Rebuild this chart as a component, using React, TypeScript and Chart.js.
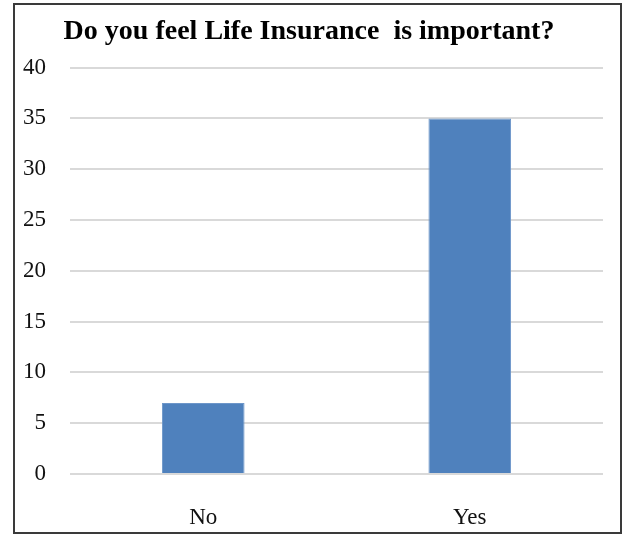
import React, { useEffect, useRef } from "react";
import { Chart, registerables } from "chart.js";

Chart.register(...registerables);

const categories = ["No", "Yes"];
const values = [7, 35];
const titleText = "Do you feel Life Insurance  is important?";

export default function App() {
  const ref = useRef<HTMLCanvasElement>(null);
  useEffect(() => {
    if (!ref.current) return;
    const chart = new Chart(ref.current, {
      type: "bar",
      data: {
        labels: categories,
        datasets: [
          {
            data: values,
            backgroundColor: "#4F81BD",
            borderColor: "#6d96c9",
            borderWidth: 1,
            barPercentage: 0.31,
            categoryPercentage: 1,
          },
        ],
      },
      options: {
        animation: false,
        responsive: false,
        layout: { padding: { left: 0, right: 17, top: 0, bottom: 0 } },
        plugins: {
          legend: { display: false },
          tooltip: { enabled: false },
          title: {
            display: true,
            text: titleText,
            color: "#000",
            font: { family: "Liberation Serif", size: 28, weight: "bold" },
            padding: { top: 10, bottom: 19 },
          },
        },
        scales: {
          x: {
            grid: { display: false, drawTicks: false },
            border: { display: false },
            ticks: {
              color: "#111",
              font: { family: "Liberation Serif", size: 23 },
              padding: 30,
            },
            afterFit: (axis: any) => {
              axis.height = 58;
            },
          },
          y: {
            min: 0,
            max: 40,
            ticks: {
              stepSize: 5,
              color: "#111",
              font: { family: "Liberation Serif", size: 23 },
              padding: 24,
            },
            grid: { color: "#d9d9d9", lineWidth: 2, drawTicks: false },
            border: { display: false },
            afterFit: (axis: any) => {
              axis.width = 55;
            },
          },
        },
      },
    });
    return () => chart.destroy();
  }, []);
  return (
    <div
      style={{
        position: "absolute",
        left: 13,
        top: 3,
        width: 609,
        height: 531,
        border: "2px solid #3a3a3a",
        boxSizing: "border-box",
        background: "#fff",
      }}
    >
      <canvas ref={ref} width={605} height={527} style={{ display: "block" }} />
    </div>
  );
}
